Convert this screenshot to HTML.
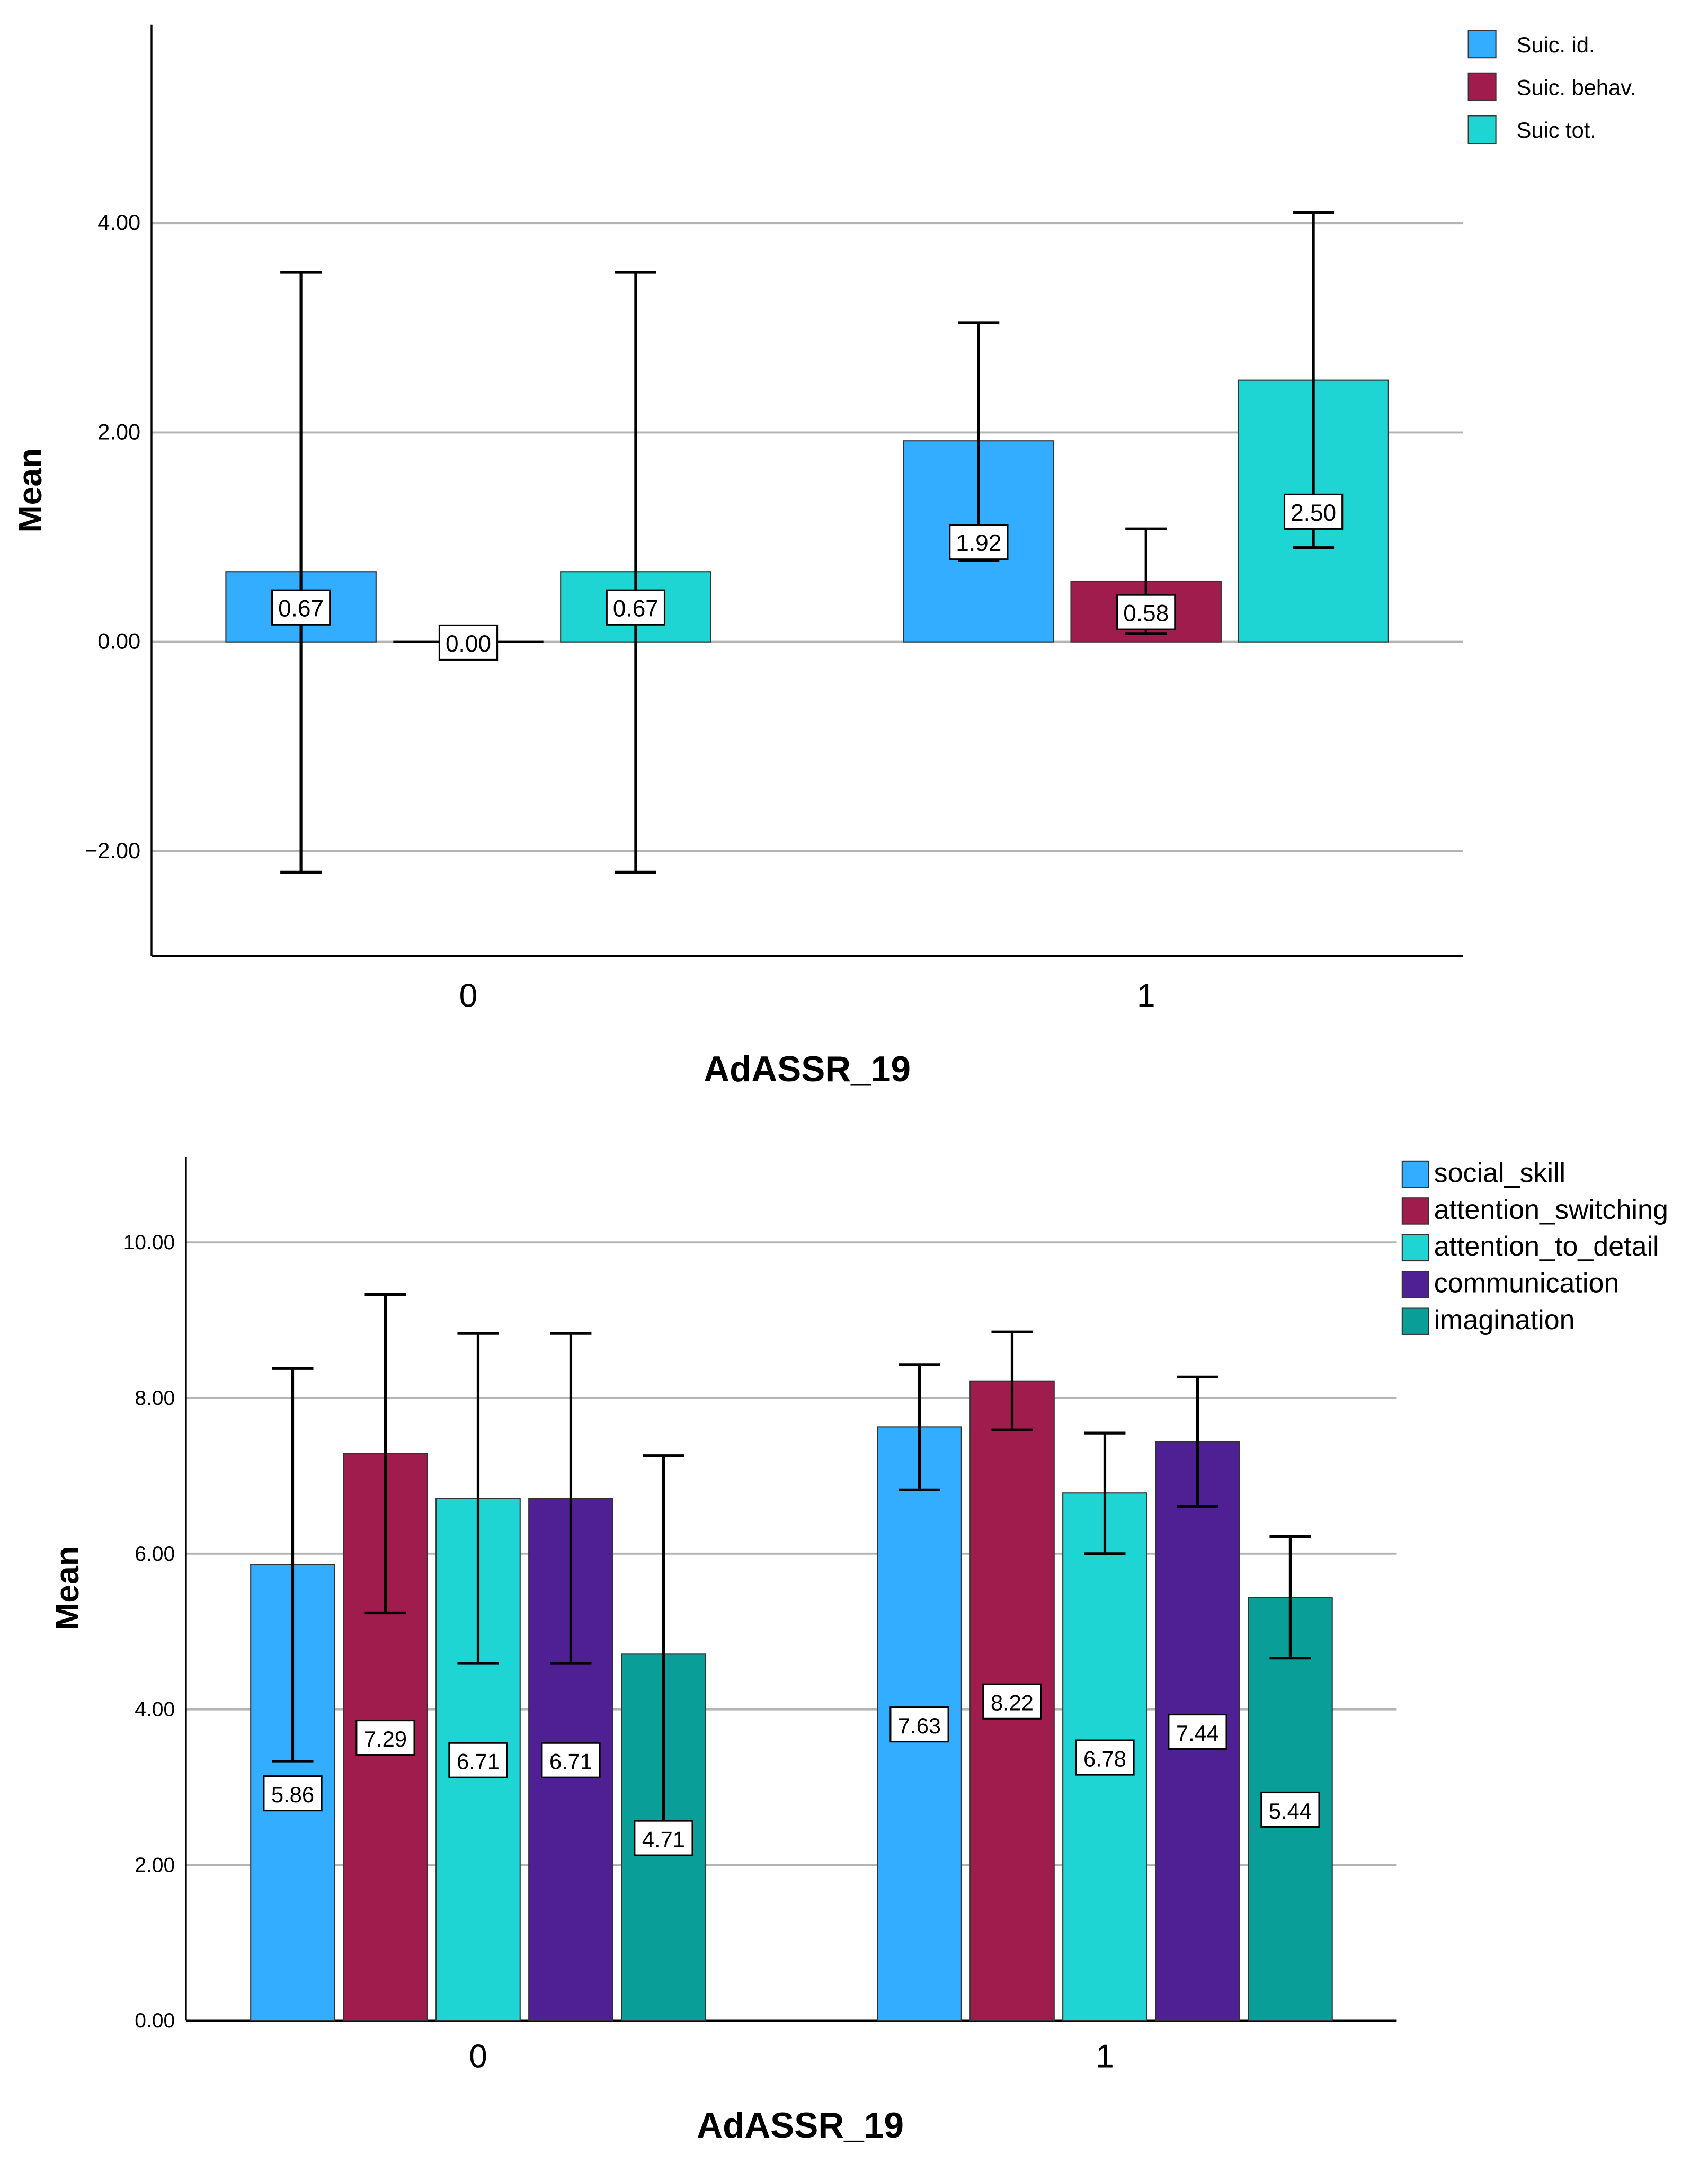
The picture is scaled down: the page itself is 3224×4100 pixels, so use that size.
<!DOCTYPE html>
<html><head><meta charset="utf-8"><style>
html,body{margin:0;padding:0;background:#fff;}
svg{display:block;font-family:"Liberation Sans",Arial,sans-serif;}
</style></head><body>
<svg id="s" width="3224" height="4100" viewBox="0 0 1240 1576.9" preserveAspectRatio="none" xmlns="http://www.w3.org/2000/svg"></svg>
<script>
// ---- Top chart data ----
const topCategories = ["0","1"];
const topSeries = ["Suic. id.","Suic. behav.","Suic tot."];
const topMeans = [[0.67,0.00,0.67],[1.92,0.58,2.50]];
const topHigh = [[3.53,null,3.53],[3.05,1.08,4.10]];
const topLow = [[-2.20,null,-2.20],[0.78,0.08,0.90]];
const topTicks = [-2,0,2,4];
const topTickLabels = ["\u22122.00","0.00","2.00","4.00"];
// ---- Bottom chart data ----
const botCategories = ["0","1"];
const botSeries = ["social_skill","attention_switching","attention_to_detail","communication","imagination"];
const botMeans = [[5.86,7.29,6.71,6.71,4.71],[7.63,8.22,6.78,7.44,5.44]];
const botHigh = [[8.38,9.33,8.83,8.83,7.26],[8.43,8.85,7.55,8.27,6.22]];
const botLow = [[3.33,5.24,4.59,4.59,2.17],[6.82,7.59,6.00,6.61,4.66]];
const botTicks = [0,2,4,6,8,10];
const botTickLabels = ["0.00","2.00","4.00","6.00","8.00","10.00"];

const NS="http://www.w3.org/2000/svg";
const svg=document.getElementById('s');
function el(tag,attrs,parent,text){const e=document.createElementNS(NS,tag);for(const k in attrs)e.setAttribute(k,attrs[k]);if(text!==undefined)e.textContent=text;(parent||svg).appendChild(e);return e;}

function chart(cfg){
  const g=el('g',{});
  
  
  const y=v=>cfg.y0-(v-cfg.v0)*cfg.ppu;
  // gridlines + ticks
  cfg.ticks.forEach((t,i)=>{
    const gl=el('line',{x1:cfg.ax,x2:cfg.right,y1:y(t),y2:y(t),stroke:'#b4b4b4','stroke-width':1.5},g);
    
    
    const tl=el('text',{x:cfg.ax-8,y:y(t)+5,'text-anchor':'end','font-size':cfg.tickFs,fill:'#000'},g,cfg.tickLabels[i]);
    
    
  });
  // axes
  const ya=el('line',{x1:cfg.ax,x2:cfg.ax,y1:cfg.top,y2:cfg.bottom,stroke:'#000','stroke-width':1.3},g);
  
  
  const xa=el('line',{x1:cfg.ax,x2:cfg.right,y1:cfg.bottom,y2:cfg.bottom,stroke:'#000','stroke-width':1.3},g);
  
  
  // bars
  const nS=cfg.series.length;
  cfg.cats.forEach((c,ci)=>{
    const start=cfg.groupStart[ci];
    for(let si=0;si<nS;si++){
      const v=cfg.means[ci][si];
      const x=start+si*cfg.step, w=cfg.bw;
      const ytop=Math.min(y(v),y(0)), h=Math.abs(y(v)-y(0));
      if(h>0.5){
        const r=el('rect',{x:x,y:ytop,width:w,height:h,fill:cfg.colors[si],stroke:'#333','stroke-width':0.8},g);
        
        
      } else {
        const r=el('line',{x1:x,x2:x+w,y1:y(0),y2:y(0),stroke:'#000','stroke-width':1.5},g);
        
        
      }
      const cx=x+w/2;
      const hi=cfg.high[ci][si], lo=cfg.low[ci][si];
      if(hi!==null){
        const eb=el('g',{stroke:'#000','stroke-width':2},g);
        
        
        el('line',{x1:cx,x2:cx,y1:y(hi),y2:y(lo)},eb);
        el('line',{x1:cx-15,x2:cx+15,y1:y(hi),y2:y(hi)},eb);
        el('line',{x1:cx-15,x2:cx+15,y1:y(lo),y2:y(lo)},eb);
      }
      // value label
      const ly=y(v/2);
      const lbl=el('g',{},g);
      
      
      el('rect',{x:cx-21,y:ly-12,width:42,height:25,fill:'#fff',stroke:'#000','stroke-width':1.2},lbl);
      el('text',{x:cx,y:ly+7,'text-anchor':'middle','font-size':cfg.lblFs,fill:'#000'},lbl,v.toFixed(2));
    }
    const cl=el('text',{x:start+(nS*cfg.step-(cfg.step-cfg.bw))/2,y:cfg.catY,'text-anchor':'middle','font-size':24,fill:'#000'},g,c);
    
    
  });
  const xt=el('text',{x:cfg.titleX,y:cfg.titleY,'text-anchor':'middle','font-size':26,'font-weight':'bold',fill:'#000'},g,'AdASSR_19');
  
  
  const yt=el('text',{x:0,y:0,transform:`translate(${cfg.yTitleX},${cfg.yTitleY}) rotate(-90)`,'text-anchor':'middle','font-size':24,'font-weight':'bold',fill:'#000'},g,'Mean');
  
  
  // legend
  cfg.series.forEach((s,i)=>{
    const lg=el('g',{},g);
    
    
    const ly=cfg.legY+i*cfg.legStep;
    el('rect',{x:cfg.legX,y:ly,width:cfg.legSq,height:cfg.legSq,fill:cfg.colors[i],stroke:'#333','stroke-width':0.8},lg);
    el('text',{x:cfg.legTx,y:ly+cfg.legSq*0.8,'font-size':cfg.legFs,fill:'#000'},lg,s);
  });
}
chart({name:'suicide-chart',cats:topCategories,series:topSeries,means:topMeans,high:topHigh,low:topLow,
  ticks:topTicks,tickLabels:topTickLabels,colors:['#33adff','#a01c4c','#1fd5d3'],
  ax:110,right:1062,top:18,bottom:694,y0:466,v0:0,ppu:76,tickFs:16,lblFs:17,
  groupStart:[164,656],step:121.5,bw:109,catY:731,titleX:586,titleY:785,yTitleX:30,yTitleY:356,
  legX:1066,legY:22,legStep:31,legSq:20,legTx:1101,legFs:16});
chart({name:'aq-subscale-chart',cats:botCategories,series:botSeries,means:botMeans,high:botHigh,low:botLow,
  ticks:botTicks,tickLabels:botTickLabels,colors:['#33adff','#a01c4c','#1fd5d3','#4f1f94','#0a9e98'],
  ax:135,right:1014,top:840,bottom:1467,y0:1467,v0:0,ppu:56.5,tickFs:15,lblFs:16,
  groupStart:[182,637],step:67.3,bw:61,catY:1501,titleX:581,titleY:1552,yTitleX:57,yTitleY:1153,
  legX:1018,legY:843,legStep:26.7,legSq:19,legTx:1041,legFs:20});
</script>
</body></html>
